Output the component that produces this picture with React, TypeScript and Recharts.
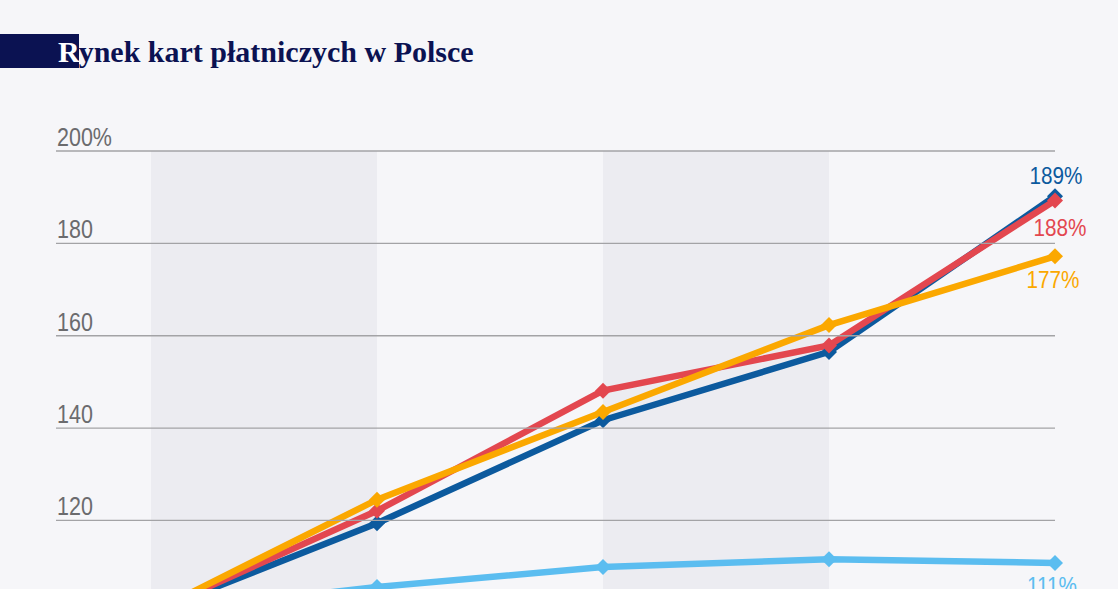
import React from "react";
import {
  LineChart, Line, XAxis, YAxis, ReferenceArea, LabelList,
} from "recharts";

// ─── data ────────────────────────────────────────────────────────────────────
const periods    = [0, 1, 2, 3, 4];
const darkBlue   = [100, 119.4, 141.7, 156.5, 190.2];
const red        = [100, 122.1, 148.1, 157.9, 189.3];
const orange     = [100, 124.5, 143.5, 162.3, 177.2];
const lightBlue  = [100, 105.6, 109.9, 111.6, 110.8];
const endLabels  = ["189%", "188%", "177%", "111%"];
const yTicks     = [120, 140, 160, 180, 200];
const bands      = [[0, 1], [2, 3]];

const data = periods.map((p, i) => ({
  p,
  darkBlue: darkBlue[i],
  red: red[i],
  orange: orange[i],
  lightBlue: lightBlue[i],
}));

// ─── look ────────────────────────────────────────────────────────────────────
const W = 1118;
const H = 589;
const CHART_H = 700;
const M = { top: 151, right: 63, bottom: 41, left: 56 };
const AXIS_W = 95;
const BG = "#f6f6f9";
const BAND = "#ececf1";
const NAVY = "#0b1252";
const SANS = "'Liberation Sans', Arial, sans-serif";

const SERIES = [
  { key: "lightBlue", color: "#5bbdf0", label: endLabels[3], dx: -3, dy: 31 },
  { key: "darkBlue",  color: "#0c5a9e", label: endLabels[0], dx: 1,  dy: -12 },
  { key: "red",       color: "#e3474f", label: endLabels[1], dx: 5,  dy: 36 },
  { key: "orange",    color: "#fba800", label: endLabels[2], dx: -2, dy: 32 },
];

function Diamond(props: any) {
  const { cx, cy, stroke } = props;
  if (cx == null || cy == null) return null;
  const r = 8;
  return (
    <polygon
      points={`${cx},${cy - r} ${cx + r},${cy} ${cx},${cy + r} ${cx - r},${cy}`}
      fill={stroke}
    />
  );
}

// gridline + label sitting on top of it
function GridTick(props: any) {
  const { y, payload } = props;
  const v = payload.value as number;
  return (
    <g>
      <line x1={M.left} x2={W - M.right} y1={y} y2={y} stroke="#a3a3a6" strokeWidth={1.3} />
      <text
        transform={`translate(${M.left + 1},${y - 5}) scale(0.86,1)`}
        fill="#6b6b6e" fontSize={25} fontFamily={SANS}
      >
        {v === 200 ? "200%" : v}
      </text>
    </g>
  );
}

function endLabel(color: string, text: string, dx: number, dy: number) {
  return (props: any) => {
    const { x, y, index } = props;
    if (index !== periods.length - 1) return null;
    return (
      <text
        transform={`translate(${x + dx},${y + dy}) scale(0.9,1)`}
        fill={color} fontSize={23} fontFamily={SANS} textAnchor="middle"
      >
        {text}
      </text>
    );
  };
}

export default function App() {
  return (
    <div style={{ position: "fixed", left: 0, top: 0, width: W, height: H, overflow: "hidden", background: BG }}>
      <svg width={W} height={90} style={{ position: "absolute", left: 0, top: 0 }}>
        <rect x={0} y={34} width={79} height={34} fill={NAVY} />
        <text x={58} y={62} fontSize={30} fontWeight={700} fontFamily="'Liberation Serif', serif" fill={NAVY}>
          <tspan fill="#ffffff">R</tspan>ynek kart płatniczych w Polsce
        </text>
      </svg>
      <div style={{ position: "absolute", left: 0, top: 0 }}>
        <LineChart width={W} height={CHART_H} data={data} margin={M}>
          {bands.map(([a, b]) => (
            <ReferenceArea key={a} x1={a} x2={b} fill={BAND} fillOpacity={1} stroke="none" ifOverflow="visible" />
          ))}
          <XAxis dataKey="p" type="number" domain={[0, 4]} hide />
          <YAxis
            domain={[90, 200]}
            ticks={yTicks}
            width={AXIS_W}
            axisLine={false}
            tickLine={false}
            tick={<GridTick />}
            allowDataOverflow
          />
          {SERIES.map((s) => (
            <Line
              key={s.key}
              dataKey={s.key}
              type="linear"
              stroke={s.color}
              strokeWidth={6.5}
              dot={<Diamond />}
              activeDot={false}
              isAnimationActive={false}
            >
              <LabelList dataKey={s.key} content={endLabel(s.color, s.label, s.dx, s.dy)} />
            </Line>
          ))}
        </LineChart>
      </div>
    </div>
  );
}
